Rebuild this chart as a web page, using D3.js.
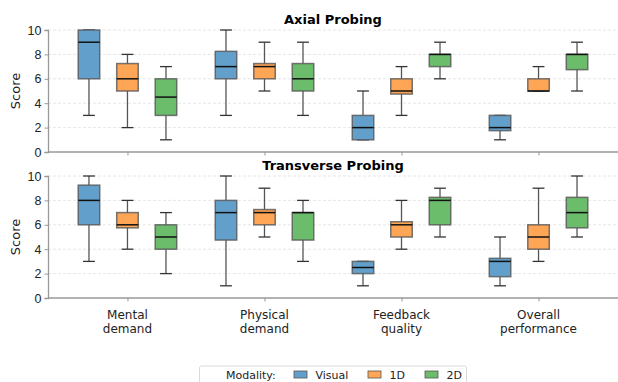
<!DOCTYPE html>
<html>
<head>
<meta charset="utf-8">
<script src="https://cdn.jsdelivr.net/npm/d3@7"></script>
<style>
  body { margin: 0; background: #fff; }
  svg { font-family: "DejaVu Sans", sans-serif; display: block; }
</style>
</head>
<body>
<svg id="chart" width="618" height="382"></svg>
<script>
const categories = ["Mental\ndemand", "Physical\ndemand", "Feedback\nquality", "Overall\nperformance"];
const modalities = ["Visual", "1D", "2D"];
const colors = ["#62a0cb", "#ffa556", "#6bbc6b"];
const yTicks = [0, 2, 4, 6, 8, 10];

// [whiskerLow, q1, median, q3, whiskerHigh] per category, per modality
const axialVisual = [[3, 6, 9, 10, 10], [3, 6, 7, 8.25, 10], [1, 1, 2, 3, 5], [1, 1.75, 2, 3, 3]];
const axial1D = [[2, 5, 6, 7.25, 8], [5, 6, 7, 7.25, 9], [3, 4.75, 5, 6, 7], [5, 5, 5, 6, 7]];
const axial2D = [[1, 3, 4.5, 6, 7], [3, 5, 6, 7.25, 9], [6, 7, 8, 8, 9], [5, 6.75, 8, 8, 9]];

const transVisual = [[3, 6, 8, 9.25, 10], [1, 4.75, 7, 8, 10], [1, 2, 2.5, 3, 3], [1, 1.75, 3, 3.25, 5]];
const trans1D = [[4, 5.75, 6, 7, 8], [5, 6, 7, 7.25, 9], [4, 5, 6, 6.25, 8], [3, 4, 5, 6, 9]];
const trans2D = [[2, 4, 5, 6, 7], [3, 4.75, 7, 7, 8], [5, 6, 8, 8.25, 9], [5, 5.75, 7, 8.25, 10]];

const panels = [
  { title: "Axial Probing", series: [axialVisual, axial1D, axial2D], top: 30, bottom: 152, labels: false },
  { title: "Transverse Probing", series: [transVisual, trans1D, trans2D], top: 176, bottom: 298, labels: true }
];

const svg = d3.select("#chart");
const left = 48, right = 618;
const x = d3.scaleLinear().domain([-0.58, 3.58]).range([left, right]);
const offset = 0.281, boxW = 0.157;

panels.forEach((p) => {
  const y = d3.scaleLinear().domain([0, 10]).range([p.bottom, p.top]);
  const g = svg.append("g");

  // grid
  g.selectAll(".grid")
    .data(yTicks.filter((t) => t > 0))
    .enter()
    .append("line")
    .attr("x1", left).attr("x2", right)
    .attr("y1", (d) => y(d)).attr("y2", (d) => y(d))
    .attr("stroke", "#e0e0e0").attr("stroke-width", 0.8)
    .attr("stroke-dasharray", "3,2");

  // y axis
  const yAxis = g.append("g")
    .attr("transform", `translate(${left},0)`)
    .call(d3.axisLeft(y).tickValues(yTicks).tickSize(3.5).tickPadding(3));
  yAxis.select(".domain").attr("stroke", "#999").attr("stroke-width", 1.3);
  yAxis.selectAll(".tick line").attr("stroke", "#999");
  yAxis.selectAll(".tick text").attr("font-size", 12.5).attr("fill", "#222");

  // x axis
  const xAxis = g.append("g")
    .attr("transform", `translate(0,${p.bottom})`)
    .call(d3.axisBottom(x).tickValues([0, 1, 2, 3]).tickSize(3.5).tickFormat(""));
  xAxis.select(".domain").attr("d", `M${left},0H${right}`).attr("stroke", "#999").attr("stroke-width", 1.3);
  xAxis.selectAll(".tick line").attr("stroke", "#999");

  if (p.labels) {
    categories.forEach((c, i) => {
      const t = g.append("text")
        .attr("x", x(i)).attr("y", p.bottom + 21)
        .attr("text-anchor", "middle").attr("font-size", 12).attr("fill", "#222");
      c.split("\n").forEach((line, k) => {
        t.append("tspan").attr("x", x(i)).attr("dy", k === 0 ? 0 : 13.5).text(line);
      });
    });
  }

  g.append("text")
    .attr("x", (left + right) / 2).attr("y", p.top - 6)
    .attr("text-anchor", "middle").attr("font-size", 13).attr("font-weight", "bold")
    .text(p.title);

  g.append("text")
    .attr("transform", `translate(20,${(p.top + p.bottom) / 2}) rotate(-90)`)
    .attr("text-anchor", "middle").attr("font-size", 13).attr("fill", "#222")
    .text("Score");

  // boxes
  p.series.forEach((vals, m) => {
    vals.forEach((v, i) => {
      const cx = x(i + (m - 1) * offset);
      const hw = (x(boxW) - x(0)) / 2;
      const cap = hw * 0.55;
      const b = g.append("g");
      b.append("line").attr("x1", cx).attr("x2", cx).attr("y1", y(v[0])).attr("y2", y(v[1]))
        .attr("stroke", "#555").attr("stroke-width", 1.3);
      b.append("line").attr("x1", cx).attr("x2", cx).attr("y1", y(v[3])).attr("y2", y(v[4]))
        .attr("stroke", "#555").attr("stroke-width", 1.3);
      [v[0], v[4]].forEach((w) => {
        b.append("line").attr("x1", cx - cap).attr("x2", cx + cap).attr("y1", y(w)).attr("y2", y(w))
          .attr("stroke", "#333").attr("stroke-width", 1.3);
      });
      b.append("rect")
        .attr("x", cx - hw).attr("width", hw * 2)
        .attr("y", y(v[3])).attr("height", Math.max(y(v[1]) - y(v[3]), 0))
        .attr("fill", colors[m]).attr("stroke", "#555").attr("stroke-opacity", 0.8).attr("stroke-width", 1.5);
      b.append("line").attr("x1", cx - hw).attr("x2", cx + hw).attr("y1", y(v[2])).attr("y2", y(v[2]))
        .attr("stroke", "#111").attr("stroke-width", 1.5);
    });
  });
});

// legend
const lg = svg.append("g").attr("transform", "translate(199.5,366)");
lg.append("rect").attr("width", 267).attr("height", 24).attr("rx", 2)
  .attr("fill", "#fff").attr("stroke", "#d0d0d0").attr("stroke-width", 0.8);
lg.append("text").attr("x", 26.5).attr("y", 12.5).attr("font-size", 11).attr("fill", "#222").text("Modality:");
const swX = [94.5, 168.5, 225.5];
modalities.forEach((m, i) => {
  lg.append("rect").attr("x", swX[i]).attr("y", 5).attr("width", 13).attr("height", 7)
    .attr("fill", colors[i]).attr("stroke", "#555").attr("stroke-width", 0.8);
  lg.append("text").attr("x", swX[i] + 21.5).attr("y", 12.5).attr("font-size", 11).attr("fill", "#222").text(m);
});
</script>
</body>
</html>
